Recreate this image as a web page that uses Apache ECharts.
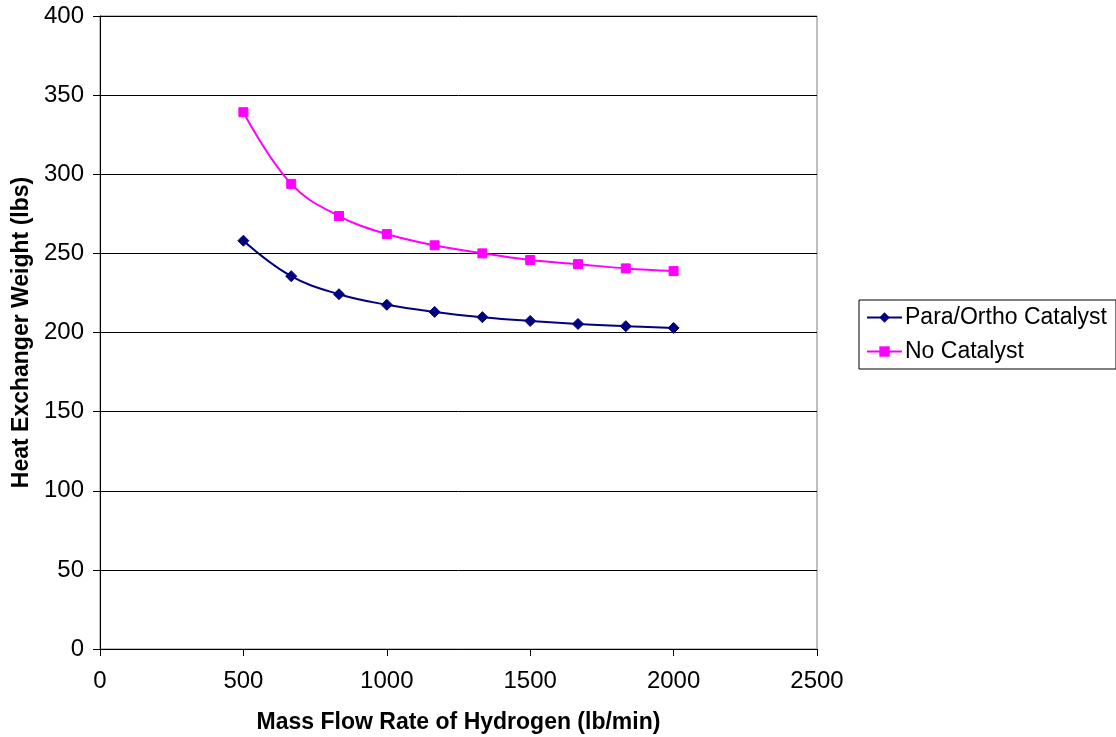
<!DOCTYPE html>
<html>
<head>
<meta charset="utf-8">
<title>Heat Exchanger Weight vs Mass Flow Rate</title>
<script src="https://cdn.jsdelivr.net/npm/echarts@6/dist/echarts.min.js"></script>
<style>
  html, body { margin: 0; padding: 0; background: #ffffff; }
  #chart { width: 1116px; height: 737px; }
</style>
</head>
<body>
<div id="chart"></div>
<script>
// Mass flow rate of hydrogen (lb/min)
const flowRates = [500, 666.7, 833.3, 1000, 1166.7, 1333.3, 1500, 1666.7, 1833.3, 2000];
// Heat exchanger weight (lbs)
const paraOrthoCatalyst = [258.0, 235.6, 224.2, 217.5, 213.0, 209.7, 207.3, 205.4, 204.0, 202.9];
const noCatalyst = [339.2, 293.9, 273.6, 262.2, 255.1, 250.0, 245.8, 243.2, 240.5, 238.8];

const seriesNames = ['Para/Ortho Catalyst', 'No Catalyst'];
const xTitle = 'Mass Flow Rate of Hydrogen (lb/min)';
const yTitle = 'Heat Exchanger Weight (lbs)';

const FONT = '"Liberation Sans", Arial, sans-serif';

const pairs = (xs, ys) => xs.map((x, i) => [x, ys[i]]);

const chart = echarts.init(document.getElementById('chart'), null, { renderer: 'canvas' });

chart.setOption({
  animation: false,
  backgroundColor: '#ffffff',
  textStyle: { fontFamily: FONT, color: '#000000' },
  grid: {
    left: 100, right: 299, top: 16, bottom: 88,
    outerBoundsMode: 'none',
    containLabel: false,
    show: true, borderColor: '#808080', borderWidth: 1,
    backgroundColor: 'transparent'
  },
  legend: {
    orient: 'vertical',
    left: 859, top: 300,
    data: seriesNames,
    itemWidth: 35, itemHeight: 13, itemGap: 11,
    padding: [6, 9, 6, 7],
    borderColor: '#000000', borderWidth: 1,
    textStyle: { fontFamily: FONT, fontSize: 23, color: '#000000', padding: [0, 0, 0, -2] }
  },
  xAxis: {
    type: 'value', min: 0, max: 2500, interval: 500,
    name: xTitle, nameLocation: 'middle', nameGap: 62,
    nameTextStyle: { fontFamily: FONT, fontSize: 23, fontWeight: 'bold', color: '#000000' },
    axisLine: { show: true, onZero: false, lineStyle: { color: '#000000', width: 1 } },
    axisTick: { show: true, inside: false, length: 7, lineStyle: { color: '#000000' } },
    axisLabel: {
      fontFamily: FONT, fontSize: 24, color: '#000000', margin: 20,
      formatter: (v) => String(v)
    },
    splitLine: { show: false }
  },
  yAxis: {
    type: 'value', min: 0, max: 400, interval: 50,
    name: yTitle, nameLocation: 'middle', nameGap: 64,
    nameTextStyle: { fontFamily: FONT, fontSize: 23, fontWeight: 'bold', color: '#000000' },
    axisLine: { show: true, lineStyle: { color: '#000000', width: 1 } },
    axisTick: { show: true, inside: false, length: 7, lineStyle: { color: '#000000' } },
    axisLabel: { fontFamily: FONT, fontSize: 24, color: '#000000', margin: 16 },
    splitLine: { show: true, lineStyle: { color: '#000000', width: 1 } }
  },
  series: [
    {
      name: seriesNames[0], type: 'line', smooth: 0.4,
      data: pairs(flowRates, paraOrthoCatalyst),
      symbol: 'diamond', symbolSize: 11,
      lineStyle: { color: '#000080', width: 2 },
      itemStyle: { color: '#000080', borderColor: '#000080' }
    },
    {
      name: seriesNames[1], type: 'line', smooth: 0.4,
      data: pairs(flowRates, noCatalyst),
      symbol: 'rect', symbolSize: 9,
      lineStyle: { color: '#ff00ff', width: 2 },
      itemStyle: { color: '#ff00ff', borderColor: '#ff00ff' }
    }
  ]
});
</script>
</body>
</html>
